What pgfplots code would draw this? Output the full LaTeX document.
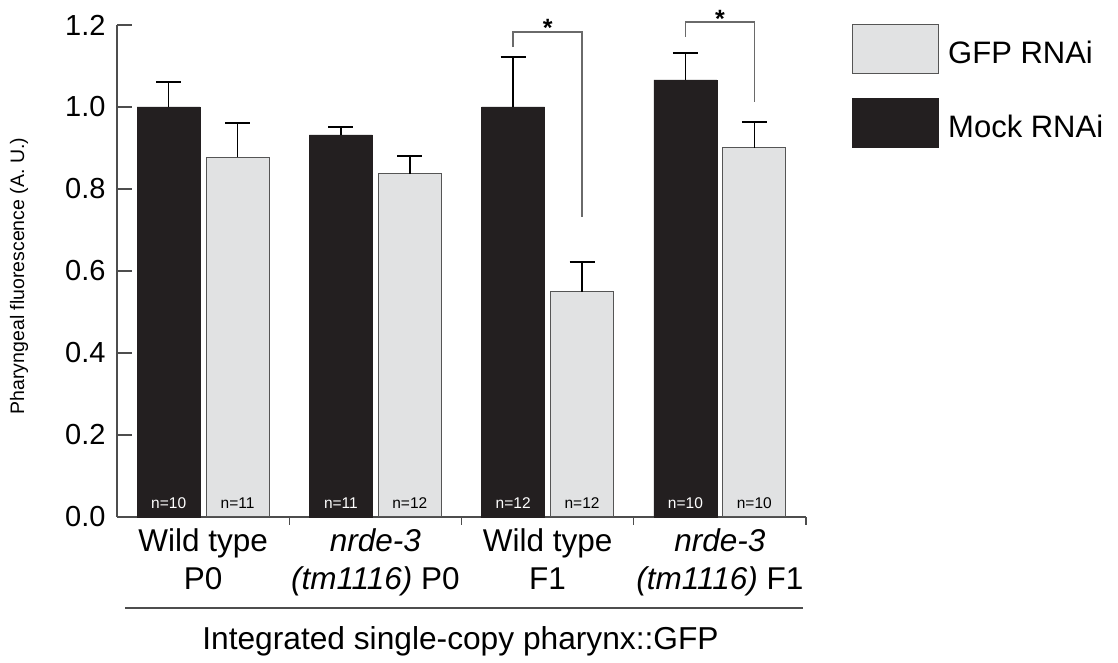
\documentclass[border=0pt]{standalone}
\usepackage{fontspec}
\setmainfont{Liberation Sans}
\usepackage{pgfplots}
\usepackage{pgfplotstable}
\pgfplotsset{compat=1.18}
\definecolor{mock}{HTML}{231F20}
\definecolor{gfp}{HTML}{E1E2E3}
\definecolor{edge}{HTML}{555555}
\definecolor{axisgray}{HTML}{4D4D4D}
\definecolor{brk}{HTML}{6A6A6A}
\tikzset{nlab/.style={inner sep=0pt, font=\fontsize{15.5}{15.5}\selectfont}}

\pgfplotstableread{
x y err
0 1.000 0.061
1 0.932 0.019
2 1.000 0.122
3 1.066 0.066
}\mockdata
\pgfplotstableread{
x y err
0 0.878 0.083
1 0.837 0.043
2 0.549 0.073
3 0.900 0.063
}\gfpdata

\begin{document}
\begin{tikzpicture}
\useasboundingbox (0,0) rectangle (1118pt,663pt);
\begin{axis}[
  at={(117pt,146pt)}, anchor=south west,
  scale only axis, width=689pt, height=492pt,
  xmin=-0.5, xmax=3.5, ymin=0, ymax=1.2,
  axis x line=bottom, axis y line=left,
  axis line style={-, draw=axisgray, line width=1.3pt},
  ytick={0,0.2,0.4,0.6,0.8,1.0,1.2},
  yticklabel style={font=\fontsize{29}{29}\selectfont, xshift=-8pt,
    /pgf/number format/fixed, /pgf/number format/fixed zerofill,
    /pgf/number format/precision=1, /pgf/number format/assume math mode=true},
  tick align=inside,
  major tick length=15pt,
  ytick style={draw=axisgray, line width=1.3pt},
  xtick={0,1,2,3},
  xticklabels={{Wild type\\P0},{\textit{nrde-3}\\\textit{(tm1116)} P0},{Wild type\\F1},{\textit{nrde-3}\\\textit{(tm1116)} F1}},
  xticklabel style={align=center, font=\fontsize{31.5}{38}\selectfont, inner sep=0pt, yshift=4pt},
  xtick style={draw=none},
  extra x ticks={0.5,1.5,2.5,3.5},
  extra x tick labels={},
  extra x tick style={major tick length=8pt, xtick style={draw=axisgray, line width=1.3pt}},
  ybar=6pt, bar width=63pt,
  clip=false,
]
\addplot[fill=mock, draw=mock,
  error bars/.cd, y dir=plus, y explicit,
  error bar style={black, line width=1.4pt},
  error mark options={rotate=90, black, line width=1.4pt, mark size=12.5pt}]
  table[x=x, y=y, y error=err] {\mockdata};
\addplot[fill=gfp, draw=edge, line width=1pt,
  error bars/.cd, y dir=plus, y explicit,
  error bar style={black, line width=1.4pt},
  error mark options={rotate=90, black, line width=1.4pt, mark size=12.5pt}]
  table[x=x, y=y, y error=err] {\gfpdata};

% significance brackets
\draw[brk, line width=1.6pt] (axis cs:1.8,1.146) -- (axis cs:1.8,1.183) -- (axis cs:2.2,1.183) -- (axis cs:2.2,0.732);
\draw[brk, line width=1.6pt] (axis cs:2.8,1.171) -- (axis cs:2.8,1.207) -- (axis cs:3.2,1.207) -- (axis cs:3.2,1.012);
\node[anchor=base, inner sep=0pt, font=\fontsize{25}{25}\selectfont\bfseries] at (axis cs:2,1.172) {*};
\node[anchor=base, inner sep=0pt, font=\fontsize{25}{25}\selectfont\bfseries] at (axis cs:3,1.195) {*};

% n labels
\node[nlab, white] at (axis cs:-0.2,0.034) {n=10};
\node[nlab, white] at (axis cs:0.8,0.034) {n=11};
\node[nlab, white] at (axis cs:1.8,0.034) {n=12};
\node[nlab, white] at (axis cs:2.8,0.034) {n=10};
\node[nlab, black] at (axis cs:0.2,0.034) {n=11};
\node[nlab, black] at (axis cs:1.2,0.034) {n=12};
\node[nlab, black] at (axis cs:2.2,0.034) {n=12};
\node[nlab, black] at (axis cs:3.2,0.034) {n=10};
\end{axis}

% y label
\node[rotate=90, inner sep=0pt, font=\fontsize{19.5}{19.5}\selectfont] at (19pt,387pt) {Pharyngeal fluorescence (A. U.)};

% bottom rule and title
\draw[axisgray, line width=1.3pt] (125pt,55pt) -- (803pt,55pt);
\node[anchor=base, inner sep=0pt, font=\fontsize{31.7}{31.7}\selectfont] at (460.5pt,13pt) {Integrated single-copy pharynx::GFP};

% legend
\draw[fill=gfp, draw=edge, line width=1pt] (852pt,589pt) rectangle (938pt,638pt);
\draw[fill=mock, draw=mock, line width=1pt] (852pt,515pt) rectangle (938pt,564pt);
\node[anchor=west, inner sep=0pt, font=\fontsize{31}{31}\selectfont] at (948pt,611pt) {GFP RNAi};
\node[anchor=west, inner sep=0pt, font=\fontsize{31}{31}\selectfont] at (948pt,537pt) {Mock RNAi};
\end{tikzpicture}
\end{document}
